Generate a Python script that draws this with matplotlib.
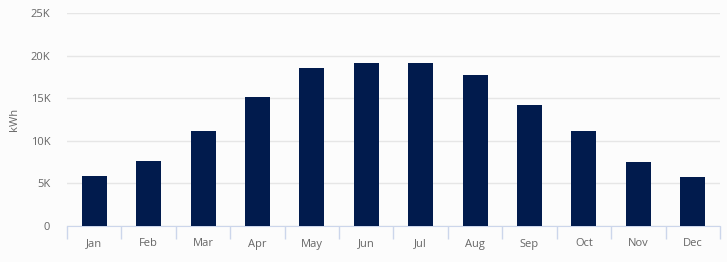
import matplotlib
matplotlib.use("Agg")
import matplotlib.pyplot as plt
import numpy as np
from matplotlib.ticker import FuncFormatter

months = ["Jan", "Feb", "Mar", "Apr", "May", "Jun", "Jul", "Aug", "Sep", "Oct", "Nov", "Dec"]
energy_kwh = [5900, 7600, 11100, 15100, 18500, 19100, 19100, 17700, 14200, 11100, 7500, 5800]
y_ticks = [0, 5000, 10000, 15000, 20000, 25000]

BG = "#fcfcfc"
BAR = "#011b4d"
TEXT = "#666666"

plt.rcParams["font.family"] = ["Open Sans", "DejaVu Sans"]

fig = plt.figure(figsize=(7.27, 2.62), dpi=100, facecolor=BG)
ax = fig.add_axes([67 / 727, 36 / 262, 653 / 727, 213 / 262], facecolor=BG)

x = np.arange(len(months))
ax.bar(x, energy_kwh, width=0.46, color=BAR, zorder=3)

ax.set_xlim(-0.5, len(months) - 0.5)
ax.set_ylim(0, 25000)
ax.set_yticks(y_ticks)
ax.yaxis.set_major_formatter(FuncFormatter(lambda v, _: "0" if v == 0 else f"{int(v / 1000)}K"))
ax.grid(axis="y", color="#e6e6e6", linewidth=1, zorder=0)

ax.set_xticks(x)
ax.set_xticklabels(months)
ax.set_xticks(np.arange(-0.5, len(months)), minor=True)
ax.tick_params(axis="x", which="major", length=0, pad=9, labelsize=8, labelcolor=TEXT)
ax.tick_params(axis="x", which="minor", length=9, color="#ccd6eb", width=1)
ax.tick_params(axis="y", length=0, pad=12, labelsize=8, labelcolor=TEXT)

for side in ["top", "right", "left"]:
    ax.spines[side].set_visible(False)
ax.spines["bottom"].set_color("#ccd6eb")

ax.set_ylabel("kWh", fontsize=8, color=TEXT, labelpad=8)

fig.savefig("out.png", dpi=100, facecolor=BG)
